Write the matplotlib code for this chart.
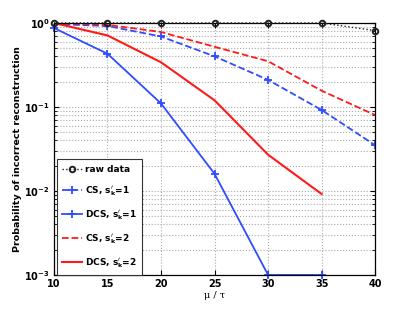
import matplotlib
matplotlib.use("Agg")
import matplotlib.pyplot as plt
from matplotlib.ticker import LogLocator, NullFormatter

mu_tau = [10, 15, 20, 25, 30, 35, 40]
raw_data = [1.0, 1.0, 1.0, 1.0, 1.0, 1.0, 0.81]
cs_s1 = [0.97, 0.92, 0.69, 0.40, 0.21, 0.092, 0.035]
dcs_s1 = [0.87, 0.43, 0.11, 0.016, 0.001, 0.001]
cs_s2 = [1.0, 0.95, 0.78, 0.52, 0.35, 0.156, 0.080]
dcs_s2 = [1.0, 0.71, 0.34, 0.12, 0.027, 0.0092]

blue = "#2f4cff"
red = "#ff1a1a"

fig = plt.figure(figsize=(4.15, 3.10), dpi=100)
ax = fig.add_axes([0.130, 0.113, 0.774, 0.813])

ax.plot(mu_tau, raw_data, color="#222222", linestyle=":", marker="o", markersize=4,
        markerfacecolor="none", markeredgewidth=1.4, linewidth=1.0, label="raw data", clip_on=False, zorder=5)
ax.plot(mu_tau, cs_s1, color=blue, linestyle="--", marker="+", markersize=6,
        markeredgewidth=1.3, linewidth=1.3, label=r"CS, $\mathbf{s_k^{\prime}}$=1")
ax.plot(mu_tau[:len(dcs_s1)], dcs_s1, color=blue, linestyle="-", marker="+", markersize=6,
        markeredgewidth=1.3, linewidth=1.3, label=r"DCS, $\mathbf{s_k^{\prime}}$=1", clip_on=False)
ax.plot(mu_tau, cs_s2, color=red, linestyle="--", linewidth=1.3, label=r"CS, $\mathbf{s_k^{\prime}}$=2")
ax.plot(mu_tau[:len(dcs_s2)], dcs_s2, color=red, linestyle="-", linewidth=1.5, label=r"DCS, $\mathbf{s_k^{\prime}}$=2")

ax.set_yscale("log")
ax.set_xlim(10, 40)
ax.set_ylim(1e-3, 1)
ax.set_xticks(mu_tau)
ax.yaxis.set_major_locator(LogLocator(base=10, numticks=10))
ax.yaxis.set_minor_locator(LogLocator(base=10, subs=range(2, 10), numticks=20))
ax.yaxis.set_minor_formatter(NullFormatter())

ax.grid(True, which="major", linestyle=":", color="#aaaaaa", linewidth=0.8)
ax.grid(True, which="minor", axis="y", linestyle=":", color="#aaaaaa", linewidth=0.8)

ax.tick_params(direction="in", which="both", top=True, right=True, labelsize=7, pad=3)
for lbl in ax.get_xticklabels() + ax.get_yticklabels():
    lbl.set_fontweight("bold")
for s in ax.spines.values():
    s.set_linewidth(0.9)

ax.set_xlabel("μ / τ", family="DejaVu Serif", fontsize=7, labelpad=1)
ax.set_ylabel("Probability of incorrect reconstruction", fontsize=6.8, fontweight="bold")
ax.yaxis.set_label_coords(-0.098, 0.5)

leg = ax.legend(loc="lower left", bbox_to_anchor=(0.008, 0.0), prop={"weight": "bold", "size": 6.5},
                fancybox=False, edgecolor="#333333", framealpha=1, borderaxespad=0.0,
                handlelength=2.2, handletextpad=0.3, labelspacing=1.15, borderpad=0.6)
leg.get_frame().set_linewidth(0.8)

fig.savefig("out.png", dpi=100)
